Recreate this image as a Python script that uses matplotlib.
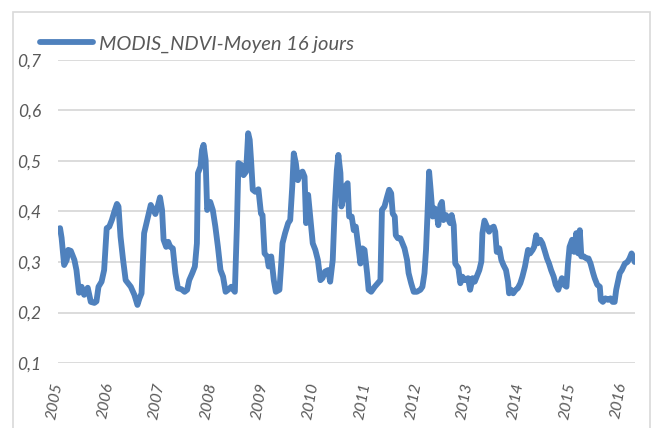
import matplotlib
matplotlib.use("Agg")
import matplotlib.pyplot as plt
from matplotlib.patches import Rectangle

# decimal year and NDVI
t_2005_2008 = [2005.00, 2005.04, 2005.07, 2005.12, 2005.17, 2005.20, 2005.25, 2005.32, 2005.36,
               2005.41, 2005.46, 2005.51, 2005.58, 2005.64, 2005.71, 2005.75, 2005.79, 2005.85,
               2005.90, 2005.95, 2006.00, 2006.05, 2006.10, 2006.15, 2006.18, 2006.22, 2006.27,
               2006.32, 2006.42, 2006.49, 2006.55, 2006.59, 2006.63, 2006.68, 2006.74, 2006.81,
               2006.86, 2006.90, 2006.95, 2006.99, 2007.03, 2007.06, 2007.11, 2007.15, 2007.19,
               2007.24, 2007.29, 2007.34, 2007.41, 2007.47, 2007.52, 2007.56, 2007.62, 2007.67,
               2007.71, 2007.73, 2007.78, 2007.81, 2007.84, 2007.88, 2007.91, 2007.94, 2007.97]
v_2005_2008 = [0.365, 0.367, 0.348, 0.294, 0.304, 0.324, 0.322, 0.304, 0.284,
               0.239, 0.251, 0.235, 0.249, 0.221, 0.219, 0.222, 0.251, 0.261,
               0.284, 0.367, 0.370, 0.383, 0.400, 0.415, 0.410, 0.350, 0.304,
               0.264, 0.251, 0.235, 0.215, 0.228, 0.238, 0.357, 0.383, 0.413,
               0.403, 0.395, 0.412, 0.428, 0.403, 0.344, 0.330, 0.340, 0.330,
               0.327, 0.278, 0.248, 0.246, 0.241, 0.245, 0.264, 0.278, 0.291,
               0.337, 0.476, 0.489, 0.522, 0.532, 0.502, 0.403, 0.410, 0.419]

t_2008_2011 = [2008.02, 2008.07, 2008.12, 2008.17, 2008.22, 2008.27, 2008.32, 2008.38, 2008.45,
               2008.49, 2008.52, 2008.58, 2008.62, 2008.67, 2008.71, 2008.74, 2008.77, 2008.80,
               2008.85, 2008.91, 2008.96, 2008.99, 2009.03, 2009.08, 2009.11, 2009.16, 2009.21,
               2009.25, 2009.32, 2009.36, 2009.38, 2009.43, 2009.49, 2009.53, 2009.57, 2009.60,
               2009.64, 2009.68, 2009.73, 2009.77, 2009.81, 2009.84, 2009.88, 2009.92, 2009.97,
               2010.02, 2010.07, 2010.12, 2010.16, 2010.21, 2010.27, 2010.31, 2010.36, 2010.40,
               2010.44, 2010.47, 2010.51, 2010.53, 2010.57, 2010.60, 2010.65, 2010.68, 2010.73,
               2010.77, 2010.81, 2010.85, 2010.90, 2010.94, 2010.98]
v_2008_2011 = [0.403, 0.370, 0.330, 0.284, 0.271, 0.241, 0.245, 0.251, 0.241,
               0.370, 0.496, 0.492, 0.472, 0.479, 0.555, 0.542, 0.496, 0.443,
               0.439, 0.444, 0.396, 0.393, 0.317, 0.311, 0.291, 0.311, 0.264,
               0.241, 0.245, 0.304, 0.337, 0.357, 0.377, 0.383, 0.449, 0.515,
               0.496, 0.462, 0.476, 0.479, 0.469, 0.377, 0.433, 0.390, 0.337,
               0.324, 0.304, 0.264, 0.268, 0.281, 0.284, 0.261, 0.304, 0.410,
               0.482, 0.512, 0.476, 0.410, 0.429, 0.449, 0.456, 0.390, 0.390,
               0.363, 0.370, 0.337, 0.297, 0.327, 0.324]

t_2011_2014 = [2011.03, 2011.06, 2011.11, 2011.18, 2011.24, 2011.29, 2011.32, 2011.37, 2011.42,
               2011.46, 2011.50, 2011.53, 2011.57, 2011.59, 2011.63, 2011.68, 2011.72, 2011.76,
               2011.81, 2011.84, 2011.89, 2011.94, 2012.00, 2012.07, 2012.11, 2012.15, 2012.18,
               2012.22, 2012.24, 2012.27, 2012.31, 2012.35, 2012.38, 2012.42, 2012.46, 2012.49,
               2012.52, 2012.57, 2012.61, 2012.65, 2012.68, 2012.72, 2012.75, 2012.81, 2012.85,
               2012.89, 2012.94, 2013.00, 2013.04, 2013.09, 2013.13, 2013.17, 2013.22, 2013.26,
               2013.28, 2013.32, 2013.37, 2013.41, 2013.45, 2013.50, 2013.53, 2013.56, 2013.61,
               2013.65, 2013.69, 2013.74, 2013.78, 2013.80, 2013.84, 2013.88, 2013.93, 2013.97]
v_2011_2014 = [0.278, 0.245, 0.241, 0.251, 0.258, 0.264, 0.403, 0.410, 0.429,
               0.443, 0.436, 0.396, 0.390, 0.353, 0.347, 0.347, 0.337, 0.327,
               0.304, 0.278, 0.258, 0.241, 0.241, 0.245, 0.251, 0.278, 0.324,
               0.423, 0.479, 0.443, 0.390, 0.406, 0.403, 0.373, 0.413, 0.419,
               0.383, 0.393, 0.386, 0.377, 0.393, 0.373, 0.297, 0.288, 0.258,
               0.271, 0.264, 0.268, 0.245, 0.268, 0.261, 0.271, 0.284, 0.301,
               0.357, 0.382, 0.370, 0.360, 0.367, 0.370, 0.360, 0.320, 0.327,
               0.304, 0.294, 0.284, 0.261, 0.238, 0.245, 0.238, 0.245, 0.248]

t_2014_2016 = [2014.02, 2014.06, 2014.11, 2014.17, 2014.21, 2014.26, 2014.29, 2014.33, 2014.36,
               2014.41, 2014.45, 2014.49, 2014.54, 2014.58, 2014.62, 2014.67, 2014.71, 2014.76,
               2014.80, 2014.83, 2014.87, 2014.92, 2014.95, 2014.98, 2015.03, 2015.07, 2015.11,
               2015.15, 2015.18, 2015.21, 2015.26, 2015.31, 2015.35, 2015.39, 2015.44, 2015.47,
               2015.52, 2015.57, 2015.59, 2015.63, 2015.68, 2015.73, 2015.78, 2015.82, 2015.86,
               2015.89, 2015.93, 2015.96, 2016.00, 2016.06, 2016.11, 2016.15, 2016.19, 2016.22,
               2016.25]
v_2014_2016 = [0.258, 0.271, 0.291, 0.324, 0.317, 0.324, 0.330, 0.353, 0.337,
               0.344, 0.337, 0.324, 0.307, 0.297, 0.284, 0.271, 0.255, 0.245,
               0.258, 0.268, 0.255, 0.251, 0.297, 0.330, 0.344, 0.320, 0.357,
               0.317, 0.363, 0.311, 0.311, 0.307, 0.307, 0.297, 0.278, 0.268,
               0.255, 0.251, 0.225, 0.221, 0.228, 0.225, 0.228, 0.221, 0.221,
               0.245, 0.264, 0.278, 0.284, 0.297, 0.300, 0.307, 0.317, 0.311,
               0.300]

years = list(range(2005, 2017))
y_ticks = [0.1, 0.2, 0.3, 0.4, 0.5, 0.6, 0.7]
series_label = "MODIS_NDVI-Moyen 16 jours"

t = t_2005_2008 + t_2008_2011 + t_2011_2014 + t_2014_2016
ndvi = v_2005_2008 + v_2008_2011 + v_2011_2014 + v_2014_2016

plt.rcParams["font.family"] = ["Lato", "DejaVu Sans"]
text_grey = "#595959"

fig = plt.figure(figsize=(6.56, 4.28), dpi=100)
fig.patch.set_facecolor("white")
fig.patches.append(Rectangle((13 / 656, -0.05), 637 / 656, 1.05 - 12 / 428,
                             transform=fig.transFigure, fill=False,
                             edgecolor="#D9D9D9", linewidth=1.2))

ax = fig.add_axes([58 / 656, 1 - 363 / 428, 577 / 656, 303 / 428])
ax.plot(t, ndvi, color="#4F81BD", linewidth=4.2, solid_capstyle="round",
        solid_joinstyle="round", label=series_label)

ax.set_xlim(2005.0, 2016.257)
ax.set_ylim(0.1, 0.7)
ax.set_yticks(y_ticks)
ax.set_yticklabels([f"{v:.1f}".replace(".", ",") for v in y_ticks],
                   fontstyle="italic", color=text_grey, fontsize=12.5)
ax.set_xticks(years)
ax.set_xticklabels([str(y) for y in years], rotation=80, rotation_mode="anchor",
                   ha="right", va="center", fontstyle="italic", color=text_grey,
                   fontsize=11.5)
ax.tick_params(axis="both", length=0)
ax.tick_params(axis="y", pad=12)
ax.tick_params(axis="x", pad=14)
ax.grid(axis="y", color="#D9D9D9", linewidth=1.3)
ax.set_axisbelow(True)
for s in ax.spines.values():
    s.set_visible(False)

leg = fig.legend(loc="center left", bbox_to_anchor=(40 / 656, 1 - 44 / 428),
                 frameon=False, borderpad=0, borderaxespad=0, handlelength=2.65,
                 handletextpad=0.3, prop={"style": "italic", "size": 14.5})
for txt in leg.get_texts():
    txt.set_color(text_grey)
for h in leg.get_lines():
    h.set_solid_capstyle("round")

fig.savefig("out.png", dpi=100)
